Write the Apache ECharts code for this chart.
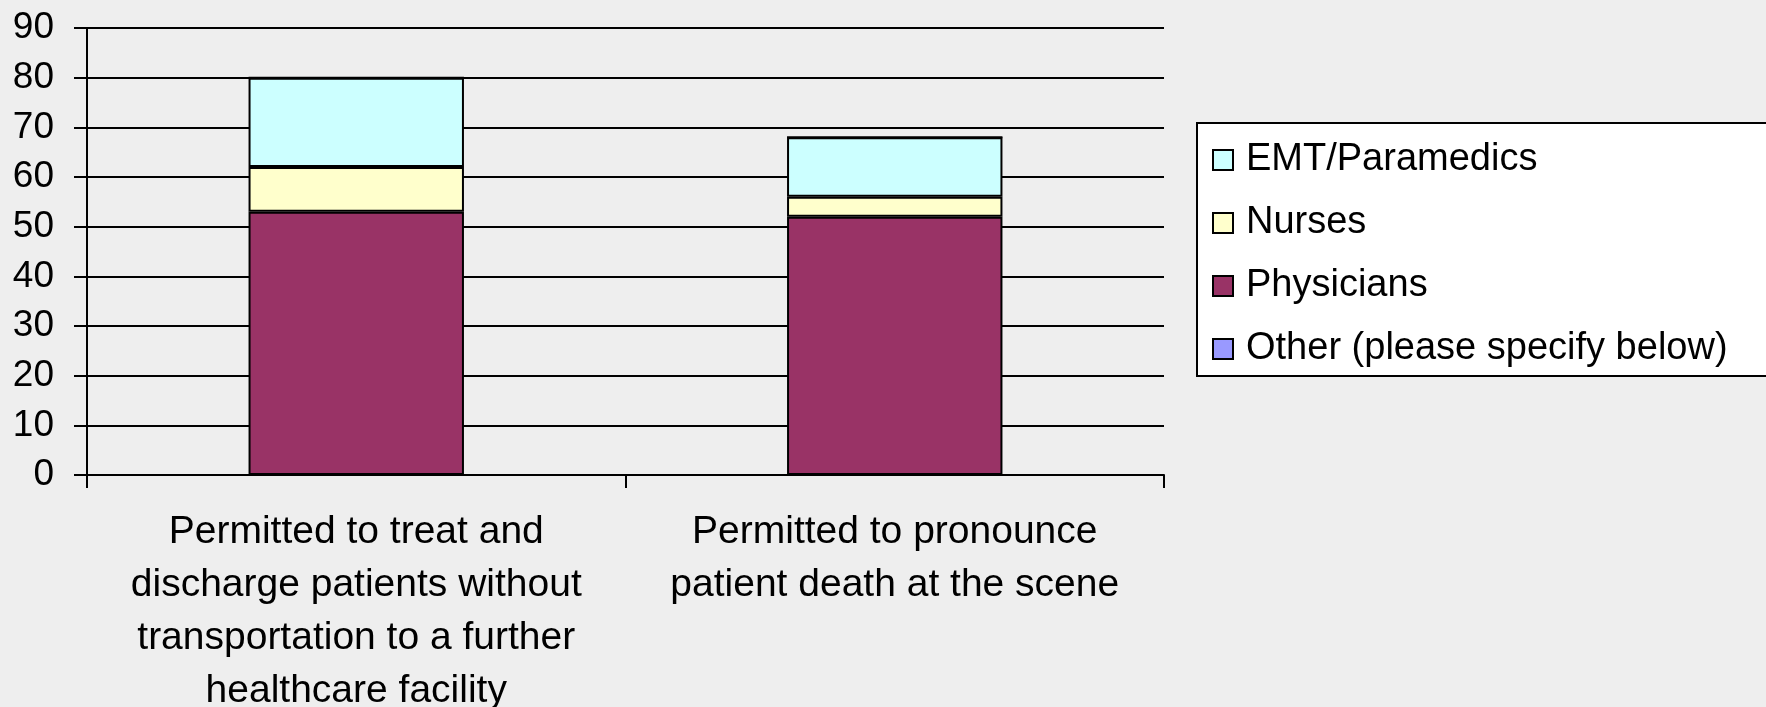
<!DOCTYPE html>
<html>
<head>
<meta charset="utf-8">
<script src="https://cdn.jsdelivr.net/npm/echarts@6/dist/echarts.min.js"></script>
<style>
html,body{margin:0;padding:0;background:#eeeeee;}
#chart{width:1766px;height:707px;}
</style>
</head>
<body>
<div id="chart"></div>
<script>
const categories = [
  "Permitted to treat and\ndischarge patients without\ntransportation to a further\nhealthcare facility",
  "Permitted to pronounce\npatient death at the scene"
];
const physicians = [53, 52];
const nurses = [9, 4];
const emtParamedics = [18, 12];
const other = [0, 0];
const legendOrder = ["EMT/Paramedics", "Nurses", "Physicians", "Other (please specify below)"];

const FONT = "'Liberation Sans', Arial, sans-serif";
const chart = echarts.init(document.getElementById('chart'), null, {renderer: 'canvas'});

function bar(name, data, color) {
  return {
    name: name, type: 'bar', stack: 'total', data: data, barWidth: '40%',
    itemStyle: {color: color, borderColor: '#000', borderWidth: 2},
    emphasis: {disabled: true}
  };
}

chart.setOption({
  backgroundColor: '#eeeeee',
  animation: false,
  textStyle: {fontFamily: FONT},
  grid: {left: 87, right: 602, top: 28, bottom: 232, outerBoundsMode: 'none', containLabel: false},
  legend: {
    data: legendOrder,
    orient: 'vertical',
    left: 1197, top: 123,
    backgroundColor: '#ffffff',
    borderColor: '#000', borderWidth: 2,
    padding: [17, 80, 7, 15],
    itemWidth: 20, itemHeight: 20,
    itemGap: 23,
    icon: 'rect',
    textStyle: {fontFamily: FONT, fontSize: 38, color: '#000', lineHeight: 40, padding: [0, 0, 0, 8]},
    selectedMode: false
  },
  xAxis: {
    type: 'category',
    data: categories,
    axisLine: {lineStyle: {color: '#000', width: 2}},
    axisTick: {show: true, length: 13, lineStyle: {color: '#000', width: 2}},
    axisLabel: {interval: 0, margin: 31, fontSize: 39, lineHeight: 53, color: '#000', fontFamily: FONT}
  },
  yAxis: {
    type: 'value', min: 0, max: 90, interval: 10,
    axisLine: {show: true, lineStyle: {color: '#000', width: 2}},
    axisTick: {show: true, length: 13, lineStyle: {color: '#000', width: 2}},
    axisLabel: {margin: 33, fontSize: 37, color: '#000', fontFamily: FONT},
    splitLine: {show: true, lineStyle: {color: '#000', width: 2}}
  },
  series: [
    bar('Physicians', physicians, '#993366'),
    bar('Nurses', nurses, '#ffffcc'),
    bar('EMT/Paramedics', emtParamedics, '#ccffff'),
    bar('Other (please specify below)', other, '#9999ff')
  ]
});
</script>
</body>
</html>
